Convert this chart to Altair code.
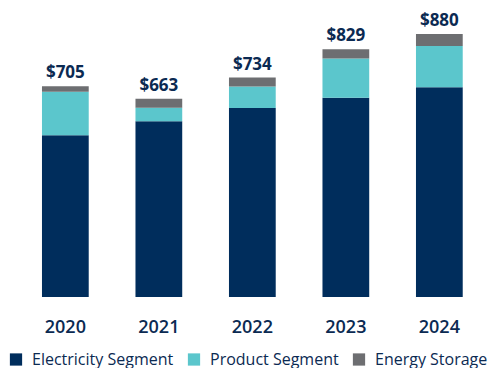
import altair as alt
import pandas as pd

years = ["2020", "2021", "2022", "2023", "2024"]
electricity = [541, 588, 632, 667, 702]
product = [146, 45, 72, 131, 138]
storage = [18, 30, 30, 31, 40]
totals = [705, 663, 734, 829, 880]
segments = ["Electricity Segment", "Product Segment", "Energy Storage"]
colors = ["#002D5C", "#5BC6CC", "#6D6E71"]

FONT = "Open Sans"
NAVY = "#0B2A52"

rows = []
for i, y in enumerate(years):
    for j, (seg, vals) in enumerate(zip(segments, [electricity, product, storage])):
        rows.append({"year": y, "segment": seg, "value": vals[i], "order": j})
df = pd.DataFrame(rows)
tot = pd.DataFrame({"year": years, "total": totals, "label": ["$" + str(t) for t in totals]})

PAD_TOP = 20
H = 269

x = alt.X(
    "year:N",
    sort=years,
    scale=alt.Scale(paddingInner=0.5, paddingOuter=0.25),
    axis=alt.Axis(
        title=None, labelAngle=0, domain=False, ticks=False,
        labelFontSize=18, labelFont=FONT, labelFontWeight=600,
        labelColor=NAVY, labelPadding=21,
    ),
)
yscale = alt.Scale(domain=[0, 900])

bars = alt.Chart(df).mark_bar().encode(
    x=x,
    y=alt.Y("value:Q", stack="zero", scale=yscale, axis=None),
    color=alt.Color(
        "segment:N",
        sort=segments,
        scale=alt.Scale(domain=segments, range=colors),
        legend=alt.Legend(
            title=None, orient="none", legendX=-10.6, legendY=338 - (PAD_TOP - 5.5),
            direction="horizontal", symbolType="square", symbolSize=150,
            symbolStrokeWidth=0, labelFontSize=16, labelFont=FONT,
            labelColor=NAVY, labelOffset=8, columnPadding=12, labelLimit=300,
        ),
    ),
    order=alt.Order("order:Q", sort="ascending"),
)

labels = alt.Chart(tot).mark_text(
    baseline="bottom", dy=-4, fontSize=17, fontWeight="bold", font=FONT, color=NAVY
).encode(
    x=alt.X("year:N", sort=years),
    y=alt.Y("total:Q", scale=yscale),
    text="label:N",
)

chart = (bars + labels).properties(
    width=467.5, height=H,
    autosize=alt.AutoSizeParams(type="none"),
    padding={"left": 10.6, "top": PAD_TOP, "right": 5.9, "bottom": 360 - PAD_TOP - H},
).configure_view(stroke=None)

chart.save("out.html", embed_options={"renderer": "svg", "actions": False})
